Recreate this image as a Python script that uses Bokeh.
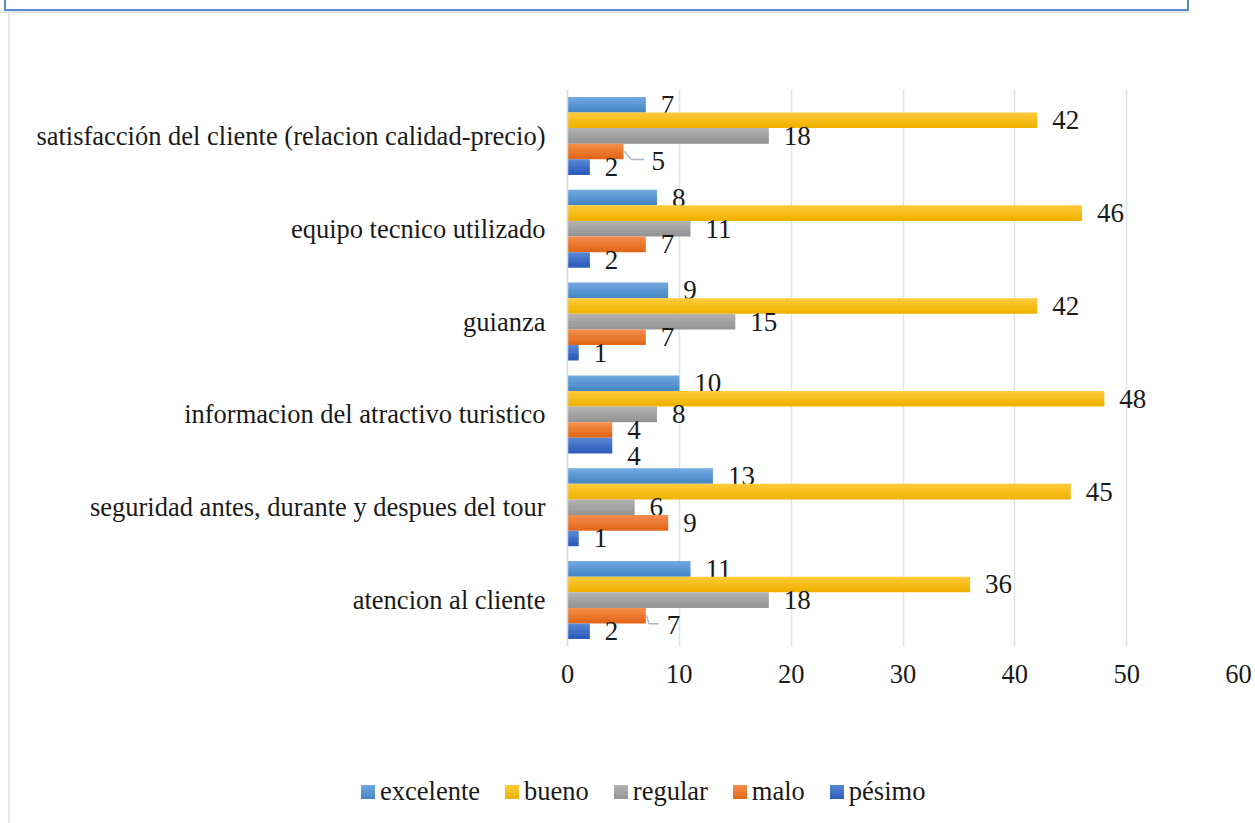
from bokeh.plotting import figure
from bokeh.layouts import column, row
from bokeh.models import (FactorRange, Range1d, FixedTicker, ColumnDataSource, Div)
from bokeh.transform import dodge
from bokeh.core.properties import value
from bokeh.embed import file_html
from bokeh.resources import INLINE

# ---------------- data ----------------
categories = [
    "satisfacción del cliente (relacion calidad-precio)",
    "equipo tecnico utilizado",
    "guianza",
    "informacion del atractivo turistico",
    "seguridad antes, durante y despues del tour",
    "atencion al cliente",
]
series_names = ["excelente", "bueno", "regular", "malo", "pésimo"]
excelente = [7, 8, 9, 10, 13, 11]
bueno = [42, 46, 42, 48, 45, 36]
regular = [18, 11, 15, 8, 6, 18]
malo = [5, 7, 7, 4, 9, 7]
pesimo = [2, 2, 1, 4, 1, 2]
x_ticks = [0, 10, 20, 30, 40, 50, 60]

# ---------------- style ----------------
FONT = "Liberation Serif"
TEXT_C = "#1a1a1a"
PAGE_W, PAGE_H = 1255, 823
LEFT_W = 10            # strip holding the chart-area left border
TOP_H = 13             # strip holding the cropped title box
LEG_H = 63             # strip holding the legend
FIG_W = PAGE_W - LEFT_W
FIG_H = PAGE_H - TOP_H - LEG_H
FRAME_L, FRAME_R, FRAME_T, FRAME_B = 567, 1238, 89, 646   # page px
X_MAX = 60
BAR_H = 0.168
offsets = [2 * BAR_H, BAR_H, 0.0, -BAR_H, -2 * BAR_H]
grad = {  # top colour, bottom colour
    "excelente": ("#70a8de", "#4887c8"),
    "bueno": ("#ffca3a", "#efb300"),
    "regular": ("#b2b2b2", "#959595"),
    "malo": ("#f58c4a", "#e2691b"),
    "pésimo": ("#5886d2", "#2e5dbd"),
}
LABEL_GAP = 15
# label nudges in px (dx, dy) plus leader-line shape (knee dx, knee dy, end dx)
nudges = {
    (categories[0], "malo"): ((13, 9), (8, 8, 21)),
    (categories[5], "malo"): ((6, 9), (3, 8, 13)),
    (categories[3], "pésimo"): ((0, 10), None),
}


def mix(c1, c2, t):
    a = [int(c1[i:i + 2], 16) for i in (1, 3, 5)]
    b = [int(c2[i:i + 2], 16) for i in (1, 3, 5)]
    return "#%02x%02x%02x" % tuple(round(a[k] + (b[k] - a[k]) * t) for k in range(3))


frame_w = FRAME_R - FRAME_L
frame_h = FRAME_B - FRAME_T
px_x = X_MAX / frame_w                 # data units per px (x)
px_y = len(categories) / frame_h       # factor units per px (y)

p = figure(width=FIG_W, height=FIG_H,
           y_range=FactorRange(factors=categories[::-1]),
           x_range=Range1d(0, X_MAX),
           output_backend="svg", toolbar_location=None,
           min_border_left=FRAME_L - LEFT_W,
           min_border_right=PAGE_W - FRAME_R,
           min_border_top=FRAME_T - TOP_H,
           min_border_bottom=(TOP_H + FIG_H) - FRAME_B)
p.outline_line_color = None
p.background_fill_color = "white"
p.border_fill_color = "white"

values_by_series = [excelente, bueno, regular, malo, pesimo]
N_SLICES = 6
for name, vals, off in zip(series_names, values_by_series, offsets):
    top_c, bot_c = grad[name]
    src = ColumnDataSource(dict(
        cat=categories, val=vals,
        lbl=[str(v) for v in vals],
        dx=[LABEL_GAP + nudges.get((c, name), ((0, 0), None))[0][0] for c in categories],
        dy=[nudges.get((c, name), ((0, 0), None))[0][1] for c in categories],
    ))
    sh = BAR_H / N_SLICES
    for k in range(N_SLICES):
        soff = off + BAR_H / 2 - sh * (k + 0.5)
        col = mix(top_c, bot_c, k / (N_SLICES - 1))
        hh = sh if k == 0 else sh * 1.25
        so = soff if k == 0 else soff + sh * 0.125
        p.hbar(y=dodge("cat", so, range=p.y_range), left=0, right="val",
               height=hh, source=src, fill_color=col, line_color=None)
    p.text(x="val", y=dodge("cat", off, range=p.y_range), text="lbl", source=src,
           x_offset="dx", y_offset="dy",
           text_font=value(FONT), text_font_size="27px", text_color=TEXT_C,
           text_align="left", text_baseline="middle")
    # leader lines for displaced labels
    for ci, c in enumerate(categories):
        nd = nudges.get((c, name))
        if nd and nd[1]:
            kx, ky, ex = nd[1]
            v = vals[ci]
            lsrc = ColumnDataSource(dict(cat=[c], x0=[v + 1 * px_x], x1=[v + kx * px_x],
                                         x2=[v + ex * px_x]))
            ylow = off - ky * px_y
            p.segment(x0="x0", y0=dodge("cat", off, range=p.y_range),
                      x1="x1", y1=dodge("cat", ylow, range=p.y_range),
                      source=lsrc, line_color="#aab6c6", line_width=1.5)
            p.segment(x0="x1", y0=dodge("cat", ylow, range=p.y_range),
                      x1="x2", y1=dodge("cat", ylow, range=p.y_range),
                      source=lsrc, line_color="#aab6c6", line_width=1.5)

# axes
p.xaxis.ticker = FixedTicker(ticks=x_ticks)
p.xaxis.axis_line_color = None
p.xaxis.major_tick_line_color = None
p.xaxis.minor_tick_line_color = None
p.xaxis.major_tick_out = 0
p.xaxis.major_tick_in = 0
p.xaxis.major_label_standoff = 18
p.xaxis.major_label_text_font = FONT
p.xaxis.major_label_text_font_size = "26.5px"
p.xaxis.major_label_text_color = TEXT_C

p.yaxis.axis_line_color = "#d3d8df"
p.yaxis.axis_line_width = 1.5
p.yaxis.major_tick_line_color = None
p.yaxis.minor_tick_line_color = None
p.yaxis.major_tick_out = 0
p.yaxis.major_tick_in = 0
p.yaxis.major_label_standoff = 22
p.yaxis.major_label_text_font = FONT
p.yaxis.major_label_text_font_size = "26.5px"
p.yaxis.major_label_text_color = TEXT_C

p.xgrid.grid_line_color = "#dfe3ea"
p.xgrid.grid_line_width = 1.5
p.ygrid.grid_line_color = None

# legend strip below the chart
LEG_X = 361 - LEFT_W
swatches = "".join(
    '<span style="display:inline-block;width:14px;height:14px;'
    'background:linear-gradient(%s,%s);margin-right:5px"></span>'
    '<span style="margin-right:%dpx">%s</span>'
    % (grad[n][0], grad[n][1], 0 if i == len(series_names) - 1 else 25, n)
    for i, n in enumerate(series_names))
legend_div = Div(width=FIG_W, height=LEG_H, text=(
    '<div style="display:flex;align-items:center;height:%dpx;padding-left:%dpx;'
    'box-sizing:border-box;font-family:\'%s\',serif;font-size:26.5px;color:%s;'
    'white-space:nowrap;line-height:1">%s</div>'
    % (LEG_H, LEG_X, FONT, TEXT_C, swatches)),
    styles={"margin": "0", "padding": "0"})

# page decorations: cropped title box at the top, light border of the chart area
top = Div(width=PAGE_W, height=TOP_H, text=(
    '<div style="margin-left:4px;width:1185px;height:11px;'
    'border:2px solid #5b8bc8;border-top:none;box-sizing:border-box"></div>'
    '<div style="height:2px;background:#e4e4e4"></div>'),
    styles={"margin": "0", "padding": "0", "overflow": "hidden"})
left = Div(width=LEFT_W, height=PAGE_H - TOP_H, text=(
    '<div style="margin-left:8px;width:2px;height:%dpx;background:#e6e6e6"></div>'
    % (PAGE_H - TOP_H)),
    styles={"margin": "0", "padding": "0", "overflow": "hidden"})

layout = column(top, row(left, column(p, legend_div, spacing=0), spacing=0), spacing=0)
open("out.html", "w").write(file_html(layout, INLINE))
